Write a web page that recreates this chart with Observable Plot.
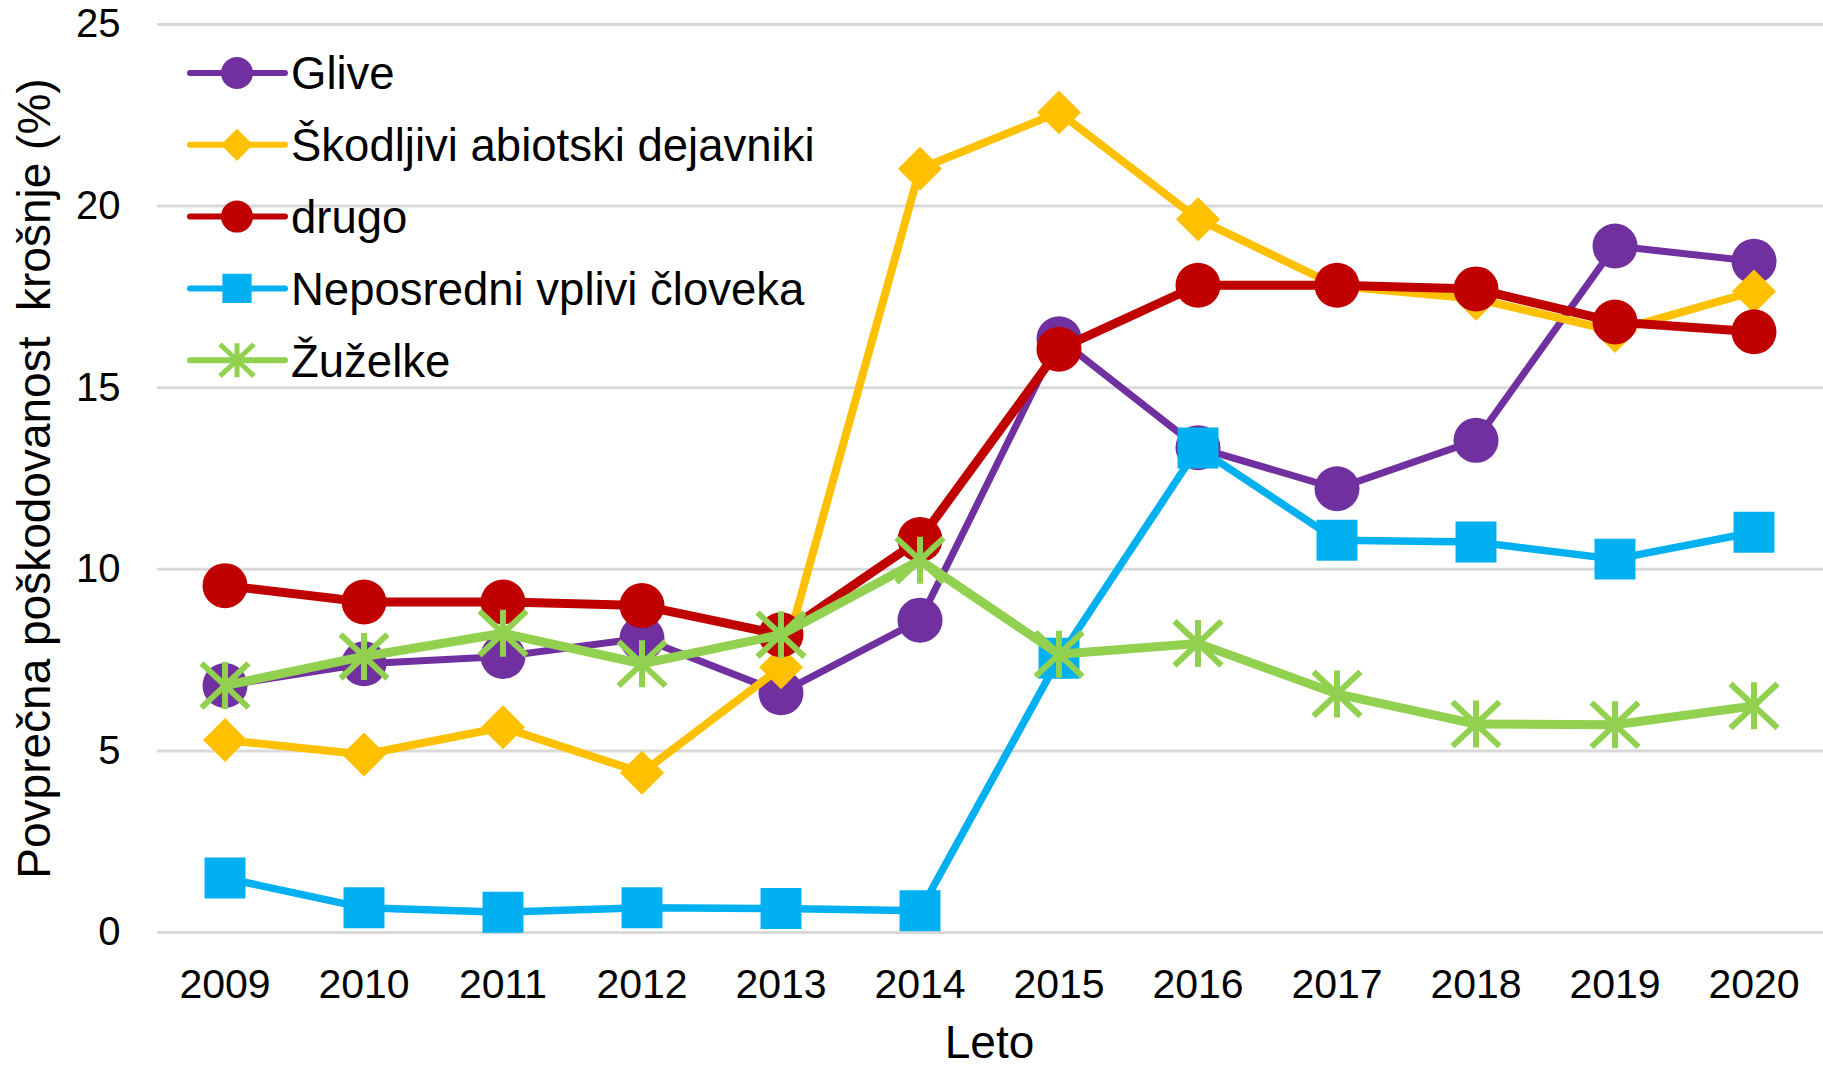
<!DOCTYPE html>
<html><head><meta charset="utf-8">
<script src="https://cdn.jsdelivr.net/npm/d3@7"></script>
<script src="https://cdn.jsdelivr.net/npm/@observablehq/plot@0.6"></script>
<style>
html,body{margin:0;padding:0;background:#fff;}
svg text{white-space:pre;}
</style></head><body><div id="chart"></div>
<script>
const years = ["2009","2010","2011","2012","2013","2014","2015","2016","2017","2018","2019","2020"];
const glive      = [6.8, 7.4, 7.6, 8.1, 6.6, 8.6, 16.35, 13.35, 12.22, 13.55, 18.9, 18.48];
const skodljivi  = [5.3, 4.9, 5.65, 4.4, 7.3, 21.03, 22.58, 19.64, 17.8, 17.45, 16.56, 17.65];
const drugo      = [9.55, 9.1, 9.1, 9.0, 8.2, 10.82, 16.06, 17.82, 17.82, 17.72, 16.81, 16.54];
const neposredni = [1.5, 0.68, 0.56, 0.68, 0.66, 0.6, 7.55, 13.34, 10.8, 10.75, 10.28, 11.02];
const zuzelke    = [6.8, 7.6, 8.24, 7.4, 8.2, 10.25, 7.66, 7.96, 6.57, 5.74, 5.72, 6.24];
const seriesNames  = ["Glive", "Škodljivi abiotski dejavniki", "drugo", "Neposredni vplivi človeka", "Žuželke"];
const seriesValues = [glive, skodljivi, drugo, neposredni, zuzelke];
const seriesColors = ["#7030A0", "#FFC000", "#C00000", "#00B0F0", "#92D050"];
const yTicks = [0, 5, 10, 15, 20, 25];
const xTitle = "Leto";
const yTitle = "Povprečna poškodovanost  krošnje (%)";

const FONT = "'Liberation Sans', Arial, sans-serif";

// Excel-like asterisk (vertical bar + X)
const excelStar = {
  draw(ctx, size) {
    const r = Math.sqrt(size / Math.PI);
    ctx.moveTo(0, -r); ctx.lineTo(0, r);
    ctx.moveTo(-r, -r * 0.94); ctx.lineTo(r, r * 0.94);
    ctx.moveTo(-r, r * 0.94); ctx.lineTo(r, -r * 0.94);
  }
};
const styles = [
  {symbol: "circle", r: 22.5, lineW: 7, filled: true},
  {symbol: "diamond2", r: 19.8, lineW: 8, filled: true},
  {symbol: "circle", r: 22.5, lineW: 9, filled: true},
  {symbol: "square", r: 23.1, lineW: 7.5, filled: true},
  {symbol: excelStar, r: 23.5, lineW: 9, filled: false}
];

const marks = [
  Plot.gridY(yTicks, {stroke: "#D9D9D9", strokeOpacity: 1, strokeWidth: 3, insetLeft: 2}),
  Plot.axisY(yTicks, {tickSize: 0, tickPadding: 35, fontSize: 40, label: null}),
  Plot.axisX({tickSize: 0, tickPadding: 36, fontSize: 41, label: null})
];
seriesNames.forEach((name, si) => {
  const rows = years.map((yr, i) => ({year: yr, value: seriesValues[si][i]}));
  const st = styles[si];
  marks.push(Plot.line(rows, {x: "year", y: "value", stroke: seriesColors[si], strokeWidth: st.lineW, strokeLinejoin: "round", strokeLinecap: "round"}));
  if (st.filled) {
    marks.push(Plot.dot(rows, {x: "year", y: "value", symbol: st.symbol, r: st.r, fill: seriesColors[si], stroke: "none"}));
  } else {
    marks.push(Plot.dot(rows, {x: "year", y: "value", symbol: st.symbol, r: st.r, fill: "none", stroke: seriesColors[si], strokeWidth: 6}));
  }
});
marks.push(Plot.text([xTitle], {text: d => d, frameAnchor: "bottom", textAnchor: "middle", lineAnchor: "top", dy: 93, fontSize: 46, fill: "#000"}));
marks.push(Plot.text([yTitle], {text: d => d, frameAnchor: "left", textAnchor: "middle", rotate: -90, lineAnchor: "middle", dx: -120, fontSize: 46, fill: "#000"}));

const chart = Plot.plot({
  width: 1823,
  height: 1067,
  marginTop: 24,
  marginBottom: 135,
  marginLeft: 155,
  marginRight: 0,
  style: {fontFamily: FONT, background: "#fff", color: "#000", overflow: "visible"},
  x: {type: "point", domain: years, padding: 0.5, round: false},
  y: {domain: [0, 25]},
  marks
});
document.getElementById("chart").appendChild(chart);

// Legend inside the plot (top-left)
const svg = d3.select(chart);
const lg = svg.append("g").attr("font-family", FONT).attr("text-anchor", "start");
const legX0 = 190, legX1 = 285, legMid = 237, legTextX = 291, legY0 = 73, legStep = 71.8;
const legendSizes = [16, 14.5, 16, 16.5, 17];
seriesNames.forEach((name, si) => {
  const yy = legY0 + si * legStep;
  const g = lg.append("g");
  g.append("line").attr("x1", legX0).attr("x2", legX1).attr("y1", yy).attr("y2", yy)
    .attr("stroke", seriesColors[si]).attr("stroke-width", 6).attr("stroke-linecap", "round");
  const st = styles[si];
  const s = legendSizes[si];
  const symType = st.symbol === "circle" ? d3.symbolCircle : st.symbol === "diamond2" ? d3.symbolDiamond2 : st.symbol === "square" ? d3.symbolSquare : excelStar;
  const path = d3.symbol(symType, s * s * Math.PI)();
  const p = g.append("path").attr("d", path).attr("transform", `translate(${legMid},${yy})`);
  if (st.filled) p.attr("fill", seriesColors[si]);
  else p.attr("fill", "none").attr("stroke", seriesColors[si]).attr("stroke-width", 5);
  g.append("text").attr("x", legTextX).attr("y", yy).attr("dy", "0.36em")
    .attr("text-anchor", "start").attr("font-size", 45.5).attr("fill", "#000").text(name);
});
</script></body></html>
